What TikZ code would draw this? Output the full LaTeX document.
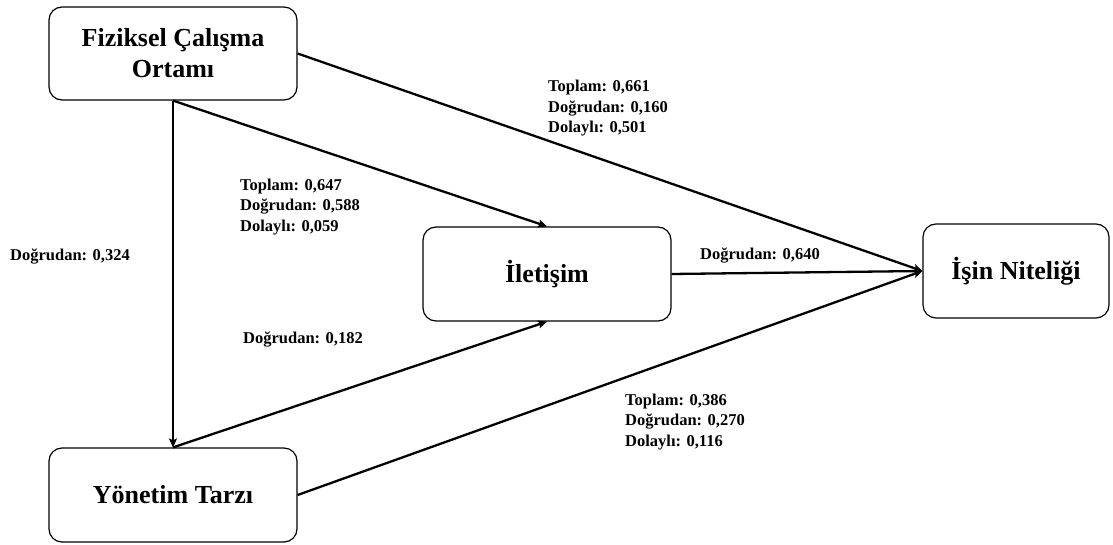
\documentclass[tikz,border=0pt]{standalone}
\usepackage{fontspec}
\setmainfont{Liberation Serif}
\usetikzlibrary{arrows.meta}
\begin{document}
\begin{tikzpicture}[x=1pt, y=-1pt,
		box/.style={draw, line width=1.2pt, rounded corners=13pt, align=center, inner sep=0pt, font=\fontsize{26}{31}\selectfont\bfseries},
		lbl/.style={anchor=west, align=left, inner sep=0pt, font=\fontsize{16.5}{20.5}\selectfont\bfseries},
		arr/.style={line width=2.3pt, -{Stealth[length=9pt, width=8pt, inset=2pt]}}]
			\useasboundingbox (0, 0) rectangle (1113, 545);
			
			\node[box, minimum width=248, minimum height=93] (fco) at (173, 53.5) {Fiziksel Çalışma\\Ortamı};
			\node[box, minimum width=248, minimum height=94] (yon) at (173, 495) {Yönetim Tarzı};
			\node[box, minimum width=248, minimum height=94] (ilet) at (547, 274) {İletişim};
			\node[box, minimum width=186, minimum height=94] (isin) at (1016, 271) {İşin Niteliği};
			
			\draw[arr] (fco.south) -- (yon.north);
			\draw[arr] (fco.south) -- (ilet.north);
			\draw[arr] (fco.east) -- (isin.west);
			\draw[arr] (ilet.east) -- (isin.west);
			\draw[arr] (yon.north) -- (ilet.south);
			\draw[arr] (yon.east) -- (isin.west);
			
			\node[lbl] (l1) at (548, 108.5) {Toplam: 0,661\\Doğrudan: 0,160\\Dolaylı: 0,501};
			\node[lbl] (l2) at (240, 207) {Toplam: 0,647\\Doğrudan: 0,588\\Dolaylı: 0,059};
			\node[lbl] (l3) at (10, 257) {Doğrudan: 0,324};
			\node[lbl] (l4) at (243, 340) {Doğrudan: 0,182};
			\node[lbl] (l5) at (700, 256) {Doğrudan: 0,640};
			\node[lbl] (l6) at (625, 422) {Toplam: 0,386\\Doğrudan: 0,270\\Dolaylı: 0,116};
		\end{tikzpicture}
\end{document}
